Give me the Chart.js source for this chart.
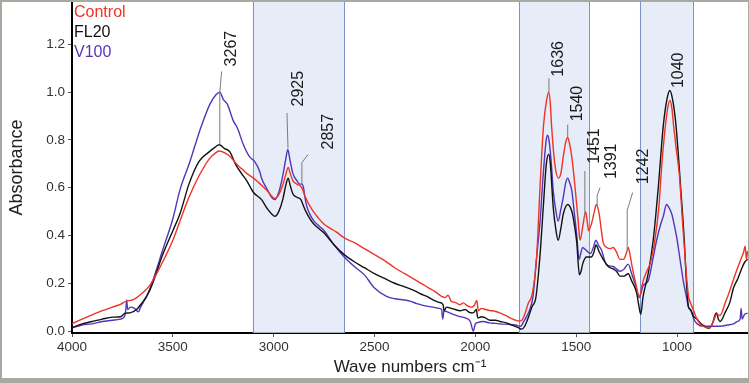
<!DOCTYPE html>
<html>
<head>
<meta charset="utf-8">
<script src="https://cdn.jsdelivr.net/npm/chart.js@4.4.1/dist/chart.umd.min.js"></script>
<style>
  html, body { margin: 0; padding: 0; background: #fff; }
  #wrap { width: 749px; height: 383px; }
</style>
</head>
<body>
<div id="wrap"><canvas id="ftirChart" width="749" height="383"></canvas></div>
<script>
// --- Data ---
const seriesNames = ['Control', 'FL20', 'V100'];

const controlWave = [4000, 3950, 3900, 3850, 3800, 3760, 3730, 3700, 3679, 3650, 3620, 3600, 3550, 3500, 3465, 3420, 3370, 3320, 3290, 3270, 3240, 3215, 3190, 3160, 3134, 3100, 3060, 3030, 3010, 2994, 2975, 2955, 2940, 2928, 2918, 2905, 2885, 2865, 2855, 2845, 2825, 2803, 2780, 2754, 2720, 2690, 2650, 2600, 2550, 2500, 2450, 2400, 2350, 2300, 2260, 2230, 2200, 2167, 2150, 2135, 2120, 2100, 2076, 2060, 2040, 2020, 2005, 1993, 1985, 1970, 1950, 1930, 1903, 1875, 1850, 1820, 1800, 1784, 1770, 1755, 1737, 1721, 1706, 1696, 1680, 1662, 1646, 1636, 1628, 1622, 1606, 1588, 1576, 1564, 1552, 1542, 1532, 1522, 1510, 1501, 1490, 1481, 1467, 1453, 1444, 1438, 1424, 1410, 1400, 1386, 1375, 1366, 1349, 1330, 1316, 1300, 1283, 1265, 1250, 1242, 1233, 1225, 1205, 1187, 1168, 1150, 1134, 1110, 1090, 1075, 1060, 1045, 1035, 1025, 1017, 1005, 989, 972, 955, 943, 934, 920, 901, 880, 860, 837, 820, 803, 787, 760, 738, 710, 688, 670, 662, 656, 650];
const controlAbs = [0.03, 0.05, 0.068, 0.085, 0.1, 0.112, 0.125, 0.13, 0.14, 0.16, 0.185, 0.21, 0.29, 0.38, 0.46, 0.56, 0.65, 0.72, 0.745, 0.754, 0.745, 0.73, 0.705, 0.68, 0.66, 0.64, 0.61, 0.585, 0.565, 0.555, 0.57, 0.61, 0.655, 0.685, 0.66, 0.63, 0.615, 0.605, 0.59, 0.565, 0.53, 0.5, 0.475, 0.45, 0.43, 0.415, 0.39, 0.37, 0.345, 0.32, 0.295, 0.265, 0.24, 0.215, 0.195, 0.18, 0.165, 0.145, 0.14, 0.15, 0.125, 0.12, 0.11, 0.118, 0.105, 0.1, 0.108, 0.128, 0.085, 0.095, 0.09, 0.086, 0.083, 0.075, 0.065, 0.052, 0.045, 0.042, 0.045, 0.07, 0.117, 0.145, 0.22, 0.31, 0.59, 0.86, 0.97, 1.0, 0.95, 0.86, 0.7, 0.64, 0.66, 0.73, 0.79, 0.81, 0.78, 0.73, 0.64, 0.56, 0.46, 0.38, 0.44, 0.5, 0.45, 0.42, 0.45, 0.5, 0.53, 0.49, 0.42, 0.37, 0.35, 0.345, 0.35, 0.33, 0.3, 0.3, 0.33, 0.35, 0.32, 0.28, 0.2, 0.145, 0.21, 0.25, 0.28, 0.38, 0.52, 0.7, 0.84, 0.94, 0.965, 0.93, 0.86, 0.77, 0.66, 0.45, 0.25, 0.145, 0.12, 0.09, 0.05, 0.025, 0.016, 0.014, 0.04, 0.07, 0.065, 0.12, 0.17, 0.24, 0.29, 0.33, 0.355, 0.3, 0.335];

const fl20Wave = [4000, 3950, 3900, 3850, 3800, 3760, 3735, 3712, 3680, 3660, 3646, 3620, 3600, 3550, 3500, 3465, 3420, 3370, 3320, 3290, 3270, 3245, 3217, 3190, 3160, 3134, 3100, 3060, 3030, 3010, 2994, 2975, 2955, 2940, 2928, 2918, 2905, 2885, 2865, 2855, 2840, 2820, 2803, 2778, 2750, 2700, 2650, 2600, 2550, 2500, 2450, 2400, 2350, 2300, 2270, 2240, 2210, 2180, 2160, 2155, 2143, 2120, 2100, 2076, 2050, 2030, 2010, 1995, 1988, 1970, 1950, 1928, 1900, 1878, 1850, 1820, 1787, 1770, 1755, 1740, 1720, 1700, 1680, 1663, 1648, 1636, 1628, 1614, 1600, 1589, 1576, 1564, 1542, 1530, 1518, 1508, 1497, 1484, 1476, 1468, 1450, 1425, 1412, 1402, 1385, 1366, 1341, 1316, 1300, 1283, 1262, 1242, 1225, 1200, 1190, 1180, 1168, 1143, 1118, 1093, 1068, 1050, 1035, 1020, 1005, 981, 964, 953, 943, 934, 917, 901, 880, 842, 825, 810, 804, 795, 787, 760, 738, 720, 698, 680, 663, 650];
const fl20Abs = [0.014, 0.03, 0.04, 0.05, 0.058, 0.06, 0.075, 0.076, 0.09, 0.11, 0.125, 0.16, 0.2, 0.32, 0.42, 0.49, 0.615, 0.71, 0.75, 0.77, 0.78, 0.765, 0.75, 0.7, 0.66, 0.63, 0.58, 0.55, 0.51, 0.49, 0.48, 0.5, 0.55, 0.61, 0.64, 0.61, 0.575, 0.56, 0.55, 0.53, 0.5, 0.47, 0.45, 0.43, 0.41, 0.36, 0.32, 0.29, 0.265, 0.24, 0.22, 0.2, 0.185, 0.168, 0.155, 0.145, 0.13, 0.12, 0.11, 0.085, 0.1, 0.095, 0.09, 0.085, 0.09, 0.078, 0.076, 0.09, 0.055, 0.06, 0.055, 0.045, 0.045, 0.04, 0.035, 0.025, 0.014, 0.008, 0.02, 0.05, 0.1, 0.14, 0.31, 0.52, 0.7, 0.74, 0.7, 0.52, 0.42, 0.38, 0.43, 0.49, 0.53, 0.52, 0.49, 0.44, 0.37, 0.235, 0.25, 0.28, 0.31, 0.31, 0.33, 0.36, 0.33, 0.3, 0.27, 0.26, 0.25, 0.23, 0.23, 0.24, 0.21, 0.16, 0.11, 0.07, 0.145, 0.24, 0.38, 0.6, 0.86, 0.97, 1.007, 0.96, 0.86, 0.59, 0.38, 0.2, 0.1, 0.09, 0.06, 0.05, 0.03, 0.012, 0.03, 0.07, 0.076, 0.05, 0.04, 0.08, 0.12, 0.18, 0.22, 0.26, 0.29, 0.3];

const v100Wave = [4000, 3950, 3900, 3850, 3800, 3760, 3740, 3733, 3729, 3724, 3710, 3690, 3671, 3660, 3640, 3630, 3600, 3550, 3500, 3465, 3415, 3366, 3316, 3285, 3267, 3250, 3230, 3200, 3180, 3150, 3120, 3095, 3070, 3060, 3030, 3010, 2994, 2975, 2955, 2940, 2930, 2920, 2905, 2885, 2870, 2860, 2852, 2845, 2835, 2815, 2800, 2775, 2750, 2700, 2650, 2600, 2550, 2500, 2440, 2400, 2350, 2324, 2290, 2250, 2210, 2180, 2167, 2162, 2155, 2140, 2110, 2076, 2050, 2025, 2010, 2000, 1990, 1960, 1930, 1900, 1878, 1840, 1800, 1775, 1760, 1746, 1730, 1714, 1696, 1680, 1663, 1650, 1643, 1635, 1625, 1614, 1600, 1589, 1576, 1564, 1552, 1542, 1532, 1522, 1510, 1497, 1486, 1476, 1468, 1453, 1440, 1428, 1415, 1402, 1390, 1375, 1351, 1316, 1300, 1283, 1262, 1242, 1225, 1205, 1187, 1168, 1143, 1120, 1101, 1080, 1068, 1052, 1042, 1026, 1015, 1001, 985, 969, 955, 943, 930, 917, 900, 867, 830, 787, 750, 720, 700, 687, 682, 677, 665, 650];
const v100Abs = [0.014, 0.025, 0.03, 0.04, 0.045, 0.05, 0.06, 0.09, 0.13, 0.09, 0.1, 0.095, 0.08, 0.1, 0.13, 0.145, 0.21, 0.34, 0.47, 0.59, 0.71, 0.84, 0.95, 0.99, 1.0, 0.97, 0.95, 0.88, 0.85, 0.78, 0.73, 0.71, 0.67, 0.64, 0.59, 0.56, 0.55, 0.58, 0.65, 0.72, 0.76, 0.72, 0.66, 0.63, 0.615, 0.615, 0.6, 0.56, 0.52, 0.48, 0.46, 0.44, 0.42, 0.36, 0.31, 0.27, 0.235, 0.18, 0.145, 0.135, 0.13, 0.125, 0.115, 0.105, 0.1, 0.095, 0.09, 0.05, 0.085, 0.08, 0.07, 0.06, 0.055, 0.04, 0.0, 0.03, 0.035, 0.04, 0.034, 0.032, 0.03, 0.028, 0.025, 0.02, 0.04, 0.06, 0.09, 0.145, 0.31, 0.45, 0.66, 0.79, 0.82, 0.8, 0.72, 0.59, 0.5, 0.46, 0.51, 0.56, 0.62, 0.64, 0.62, 0.59, 0.5, 0.4, 0.3, 0.33, 0.35, 0.34, 0.33, 0.325, 0.35, 0.38, 0.36, 0.34, 0.28, 0.27, 0.26, 0.25, 0.26, 0.28, 0.24, 0.19, 0.14, 0.19, 0.21, 0.3, 0.38, 0.45, 0.48, 0.53, 0.52, 0.49, 0.45, 0.39, 0.3, 0.21, 0.15, 0.1, 0.085, 0.05, 0.03, 0.02, 0.02, 0.02, 0.025, 0.03, 0.04, 0.05, 0.095, 0.05, 0.07, 0.075];

const xTicks = [4000, 3500, 3000, 2500, 2000, 1500, 1000];
const yTicks = [0, 0.2, 0.4, 0.6, 0.8, 1.0, 1.2];
const peakLabels = ['3267', '2925', '2857', '1636', '1540', '1451', '1391', '1242', '1040'];
const bandRanges = [[3104, 2650], [1784, 1435], [1184, 920]];

// --- Styles ---
const colors = ['#ee3424', '#111111', '#5534b8'];
const FONT = '"Liberation Sans", Arial, sans-serif';

// leader lines + label anchors for each peak label, in data units (wave, absorbance)
const peakGeometry = [
    { line: [[3267, 0.78], [3267, 1.0], [3258, 1.087]], text: [3207, 1.108] },
    { line: [[2929, 0.765], [2934, 0.913]], text: [2878, 0.94] },
    { line: [[2860, 0.614], [2860, 0.705], [2830, 0.739]], text: [2729, 0.76] },
    { line: [[1635, 1.0], [1635, 1.058]], text: [1589, 1.065] },
    { line: [[1542, 0.81], [1542, 0.864]], text: [1495, 0.878] },
    { line: [[1457, 0.477], [1457, 0.67]], text: [1411, 0.70] },
    { line: [[1396, 0.52], [1396, 0.567], [1382, 0.60]], text: [1325, 0.636] },
    { line: [[1247, 0.34], [1247, 0.505], [1220, 0.58]], text: [1167, 0.615] },
    { line: null, text: [994, 1.017] }
];

const toPoints = (xs, ys) => xs.map((x, i) => ({ x: x, y: ys[i] }));

// shaded wavenumber bands behind the spectra
const bandPlugin = {
    id: 'bands',
    beforeDatasetsDraw(chart) {
        const { ctx, chartArea, scales } = chart;
        ctx.save();
        bandRanges.forEach(([a, b]) => {
            const x1 = scales.x.getPixelForValue(a);
            const x2 = scales.x.getPixelForValue(b);
            ctx.fillStyle = 'rgba(222, 230, 246, 0.75)';
            ctx.fillRect(x1, chartArea.top, x2 - x1, chartArea.bottom - chartArea.top);
            ctx.strokeStyle = '#7b93c9';
            ctx.lineWidth = 1;
            ctx.beginPath();
            ctx.moveTo(Math.round(x1) + 0.5, chartArea.top);
            ctx.lineTo(Math.round(x1) + 0.5, chartArea.bottom);
            ctx.moveTo(Math.round(x2) + 0.5, chartArea.top);
            ctx.lineTo(Math.round(x2) + 0.5, chartArea.bottom);
            ctx.stroke();
        });
        ctx.restore();
    }
};

// peak labels, legend text and outer frame
const overlayPlugin = {
    id: 'overlay',
    afterDatasetsDraw(chart) {
        const { ctx, scales } = chart;
        const px = v => scales.x.getPixelForValue(v);
        const py = v => scales.y.getPixelForValue(v);
        ctx.save();
        peakGeometry.forEach((g, i) => {
            if (g.line) {
                ctx.strokeStyle = '#7a7a7a';
                ctx.lineWidth = 1;
                ctx.beginPath();
                g.line.forEach(([w, a], j) => {
                    if (j === 0) ctx.moveTo(px(w), py(a));
                    else ctx.lineTo(px(w), py(a));
                });
                ctx.stroke();
            }
            ctx.save();
            ctx.translate(px(g.text[0]), py(g.text[1]));
            ctx.rotate(-Math.PI / 2);
            ctx.fillStyle = '#1a1a1a';
            ctx.font = '16px ' + FONT;
            ctx.textAlign = 'left';
            ctx.textBaseline = 'middle';
            ctx.fillText(peakLabels[i], 0, 0);
            ctx.restore();
        });

        // legend as coloured text
        ctx.font = '16px ' + FONT;
        ctx.textAlign = 'left';
        ctx.textBaseline = 'middle';
        seriesNames.forEach((name, i) => {
            ctx.fillStyle = colors[i];
            ctx.fillText(name, 74, 13 + i * 20);
        });
        ctx.restore();
    },
    afterDraw(chart) {
        const { ctx, width, height } = chart;
        ctx.save();
        ctx.fillStyle = '#a9a8a1';
        ctx.fillRect(0, 0, width, 2);
        ctx.fillRect(0, 0, 2, height);
        ctx.fillRect(width - 1, 0, 1, height);
        ctx.fillRect(0, height - 5, width, 5);
        ctx.restore();
    }
};

document.addEventListener('DOMContentLoaded', () => {
    const ctx = document.getElementById('ftirChart').getContext('2d');
    const waves = [controlWave, fl20Wave, v100Wave];
    const absorb = [controlAbs, fl20Abs, v100Abs];

    new Chart(ctx, {
        type: 'line',
        data: {
            datasets: seriesNames.map((name, i) => ({
                label: name,
                data: toPoints(waves[i], absorb[i]),
                borderColor: colors[i],
                borderWidth: 1.4,
                pointRadius: 0,
                fill: false,
                cubicInterpolationMode: 'monotone'
            }))
        },
        options: {
            responsive: false,
            animation: false,
            layout: { padding: { left: 0, right: 1, top: 2, bottom: 5 } },
            plugins: { legend: { display: false }, tooltip: { enabled: false } },
            scales: {
                x: {
                    type: 'linear',
                    reverse: true,
                    min: 648,
                    max: 4000,
                    afterBuildTicks: axis => { axis.ticks = xTicks.map(v => ({ value: v })); },
                    afterFit: scale => {
                        scale.height = 45;
                        scale.paddingLeft = 0;
                        scale.paddingRight = 0;
                    },
                    border: { color: '#000', width: 2 },
                    grid: { drawOnChartArea: false, drawTicks: true, tickLength: 4, color: '#555' },
                    ticks: { color: '#333', font: { family: FONT, size: 13.5 }, padding: 2, maxRotation: 0, autoSkip: false, callback: v => String(v) },
                    title: { display: true, text: 'Wave numbers cm⁻¹', color: '#222', font: { family: FONT, size: 17 }, padding: { top: 0, bottom: 0 } }
                },
                y: {
                    type: 'linear',
                    min: -0.0083,
                    max: 1.3776,
                    afterBuildTicks: axis => { axis.ticks = yTicks.map(v => ({ value: v })); },
                    afterFit: scale => {
                        scale.width = 72;
                        scale.paddingTop = 0;
                        scale.paddingBottom = 0;
                    },
                    border: { color: '#000', width: 2 },
                    grid: { drawOnChartArea: false, drawTicks: true, tickLength: 4, color: '#555' },
                    ticks: { color: '#333', font: { family: FONT, size: 13.5 }, padding: 3, callback: v => v.toFixed(1) },
                    title: { display: true, text: 'Absorbance', color: '#222', font: { family: FONT, size: 18 }, padding: { top: 6, bottom: 0 } }
                }
            }
        },
        plugins: [bandPlugin, overlayPlugin]
    });

    window.onerror = function(message, source, lineno) {
        console.log("Global Error:", message, "at", source + ":" + lineno);
    };
});
</script>
</body>
</html>
